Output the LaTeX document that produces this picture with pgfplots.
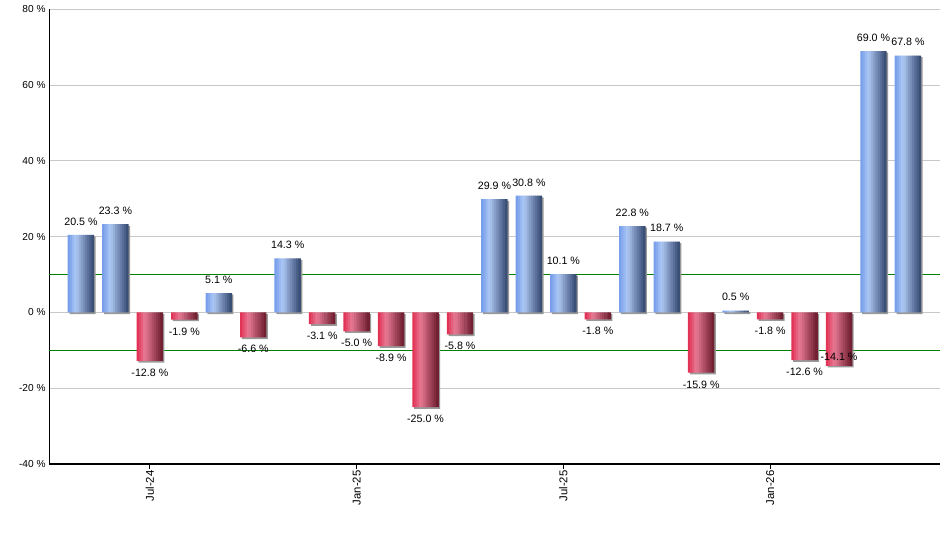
\documentclass[border=0pt]{standalone}
\usepackage{pgfplots}
\pgfplotsset{compat=1.18}
\usepackage{pgfplotstable}
\usepackage{fontspec}
\setmainfont{Liberation Sans}

\definecolor{bL}{HTML}{6F99EA}
\definecolor{bM}{HTML}{AEC8F5}
\definecolor{bR}{HTML}{34476F}
\definecolor{rL}{HTML}{E0284C}
\definecolor{rM}{HTML}{E87A94}
\definecolor{rR}{HTML}{6A1A2C}
\definecolor{gridc}{HTML}{C8C8C8}
\definecolor{limc}{HTML}{008000}

% stripe colours (12 stripes per bar, brightest at 32 %)
\colorlet{b0}{bM!13!bL}\colorlet{b1}{bM!39!bL}\colorlet{b2}{bM!65!bL}\colorlet{b3}{bM!91!bL}
\colorlet{b4}{bR!8!bM}\colorlet{b5}{bR!20!bM}\colorlet{b6}{bR!33!bM}\colorlet{b7}{bR!45!bM}
\colorlet{b8}{bR!57!bM}\colorlet{b9}{bR!69!bM}\colorlet{b10}{bR!81!bM}\colorlet{b11}{bR!94!bM}
\colorlet{r0}{rM!13!rL}\colorlet{r1}{rM!39!rL}\colorlet{r2}{rM!65!rL}\colorlet{r3}{rM!91!rL}
\colorlet{r4}{rR!8!rM}\colorlet{r5}{rR!20!rM}\colorlet{r6}{rR!33!rM}\colorlet{r7}{rR!45!rM}
\colorlet{r8}{rR!57!rM}\colorlet{r9}{rR!69!rM}\colorlet{r10}{rR!81!rM}\colorlet{r11}{rR!94!rM}

\pgfplotstableread{
x y dy
0 20.5 0
1 23.3 0
4 5.1 0
6 14.3 0
12 29.9 0
13 30.8 0
14 10.1 0
16 22.8 0
17 18.7 0
19 0.5 0
23 69.0 0
24 67.8 0
}\pos

\pgfplotstableread{
x y dy
2 -12.8 0
3 -1.9 0
5 -6.6 0
7 -3.1 0
8 -5.0 0
9 -8.9 0
10 -25.0 0
11 -5.8 0
15 -1.8 0
18 -15.9 0
20 -1.8 0
21 -12.6 0
22 -14.1 15.5
}\negt

\begin{document}
\begin{tikzpicture}
\useasboundingbox (0,0) rectangle (705pt,412.5pt);
\begin{axis}[
  at={(37.1pt,64.5pt)}, anchor=south west, scale only axis,
  width=667.9pt, height=341pt,
  xmin=-0.914, xmax=24.93, ymin=-40, ymax=80,
  axis lines*=left,
  axis line style={line width=1.1pt, black, -},
  /pgf/number format/assume math mode=true,
  ytick={-40,-20,0,20,40,60,80},
  yticklabel={\pgfmathprintnumber{\tick}~\%},
  xtick={2,8,14,20},
  xticklabels={Jul-24,Jan-25,Jul-25,Jan-26},
  tick align=outside,
  major tick length=3.75pt,
  ytick style={draw=none},
  xtick style={black, line width=0.75pt},
  yticklabel style={font=\fontsize{7.6}{9}\selectfont, inner sep=1pt, xshift=2pt},
  xticklabel style={rotate=90, anchor=east, font=\fontsize{8.5}{10}\selectfont, inner sep=1pt},
  ymajorgrids,
  grid style={gridc, line width=0.75pt},
  clip=false,
]
\addplot[limc, line width=0.8pt, forget plot] coordinates {(-0.914,10) (24.93,10)};
\addplot[limc, line width=0.8pt, forget plot] coordinates {(-0.914,-10) (24.93,-10)};

% shadows
\addplot[ybar, bar width=0.755, bar shift=0pt, draw=none, fill=black!40, xshift=1.2pt, yshift=-1.2pt, forget plot] table[x=x,y=y] {\pos};
\addplot[ybar, bar width=0.755, bar shift=0pt, draw=none, fill=black!40, xshift=1.2pt, yshift=-1.2pt, forget plot] table[x=x,y=y] {\negt};

% bars drawn as 12 vertical stripes for the gradient
\pgfplotsinvokeforeach{0,...,11}{
  \addplot[ybar, bar width=0.0755, bar shift={-0.3775+(#1+0.5)*0.062917}, draw=none, fill=b#1, forget plot] table[x=x,y=y] {\pos};
  \addplot[ybar, bar width=0.0755, bar shift={-0.3775+(#1+0.5)*0.062917}, draw=none, fill=r#1, forget plot] table[x=x,y=y] {\negt};
}

% labels
\addplot[ybar, bar width=0.755, bar shift=0pt, draw=none, fill=none,
  nodes near coords={\pgfmathprintnumber[fixed,fixed zerofill,precision=1]{\pgfplotspointmeta}~\%},
  every node near coord/.append style={anchor=south, font=\fontsize{8}{9.6}\selectfont, black, inner sep=1pt, yshift=6pt},
] table[x=x,y=y] {\pos};
\addplot[ybar, bar width=0.755, bar shift=0pt, draw=none, fill=none,
  visualization depends on={\thisrow{dy} \as \labeldy},
  nodes near coords={\pgfmathprintnumber[fixed,fixed zerofill,precision=1]{\pgfplotspointmeta}~\%},
  every node near coord/.append style={anchor=north, font=\fontsize{8}{9.6}\selectfont, black, inner sep=1pt, yshift=-4.75pt+\labeldy pt},
] table[x=x,y=y] {\negt};
\end{axis}
\end{tikzpicture}
\end{document}
